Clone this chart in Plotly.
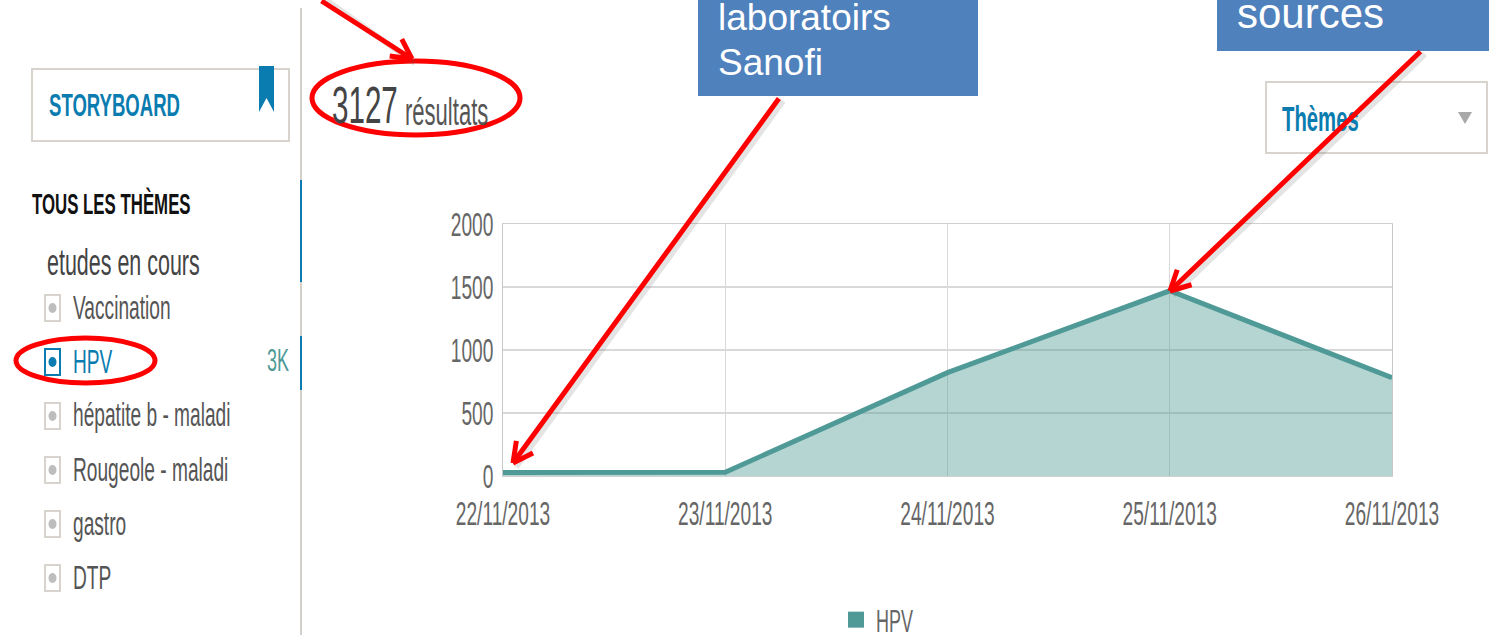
import math
import plotly.graph_objects as go

dates = ["22/11/2013", "23/11/2013", "24/11/2013", "25/11/2013", "26/11/2013"]
hpv_values = [27, 30, 820, 1470, 780]
y_ticks = [0, 500, 1000, 1500, 2000]
series_name = "HPV"
themes = ["Vaccination", "HPV", "hépatite b - maladi", "Rougeole - maladi", "gastro", "DTP"]

W, H = 1489, 643
NARROW = "Liberation Sans, Arial Narrow, sans-serif"
SANS = "Liberation Sans, Arial, sans-serif"
TEAL = "#4f9a97"
BLUE = "#0a7cb0"
BORDER = "#d8d4cd"
RED = "#ff0000"
BOX = "#4f81bd"
SQUEEZE = 0.58


def px(x):
    return x / W


def py(y):
    return 1 - y / H


fig = go.Figure()
fig.add_trace(go.Scatter(
    x=dates, y=hpv_values, mode="lines", fill="tozeroy",
    line=dict(color=TEAL, width=5), fillcolor="rgba(79,154,151,0.42)",
    showlegend=False, hoverinfo="skip",
))
fig.add_trace(go.Scatter(
    x=[dates[0]], y=[None], mode="markers", name=series_name,
    marker=dict(symbol="square", size=19, color=TEAL), showlegend=True,
))

shapes = []
annotations = []


def rect(x0, y0, x1, y1, line=None, fill=None, width=2, layer="below"):
    shapes.append(dict(type="rect", xref="paper", yref="paper", x0=px(x0), y0=py(y0), x1=px(x1), y1=py(y1),
                       line=dict(color=line or "rgba(0,0,0,0)", width=width if line else 0),
                       fillcolor=fill or "rgba(0,0,0,0)", layer=layer))


def seg(x0, y0, x1, y1, color, width, layer="below"):
    shapes.append(dict(type="line", xref="paper", yref="paper", x0=px(x0), y0=py(y0), x1=px(x1), y1=py(y1),
                       line=dict(color=color, width=width), layer=layer))


def oval(x0, y0, x1, y1, color, width=5, fill=None, layer="above"):
    shapes.append(dict(type="circle", xref="paper", yref="paper", x0=px(x0), y0=py(y0), x1=px(x1), y1=py(y1),
                       line=dict(color=color, width=width), fillcolor=fill or "rgba(0,0,0,0)", layer=layer))


def poly(path_pts, fill, layer="below"):
    path = "M " + " L ".join(f"{px(a):.5f},{py(b):.5f}" for a, b in path_pts) + " Z"
    shapes.append(dict(type="path", xref="paper", yref="paper", path=path, fillcolor=fill,
                       line=dict(width=0), layer=layer))


def text(x, y, s, size, color, font=NARROW, anchor="left", bold=False):
    annotations.append(dict(xref="paper", yref="paper", x=px(x), y=py(y), text=f"<b>{s}</b>" if bold else s,
                            showarrow=False, xanchor=anchor, yanchor="middle", align=anchor, borderpad=0,
                            font=dict(family=font, size=size, color=color)))


def stroke(x0, y0, x1, y1, width=5):
    annotations.append(dict(xref="paper", yref="paper", x=px(x1), y=py(y1), ax=x0 - x1, ay=y0 - y1,
                            axref="pixel", ayref="pixel", text="", showarrow=True, arrowhead=0,
                            arrowwidth=width, arrowcolor=RED, standoff=0, startstandoff=0))


def arrow(x0, y0, x1, y1, head=24, width=5):
    seg(x0 + 3, y0 + 4, x1 + 3, y1 + 4, "rgba(90,90,90,0.16)", width + 1, layer="above")
    stroke(x0, y0, x1, y1, width)
    ang = math.atan2(y0 - y1, x0 - x1)
    for d in (-0.48, 0.48):
        stroke(x1 + head * math.cos(ang + d), y1 + head * math.sin(ang + d), x1, y1, width)


# Sidebar frame
seg(301, 8, 301, 635, "#d3cfc9", 2)
seg(301, 180, 301, 282, BLUE, 2)
seg(301, 336, 301, 390, BLUE, 2)

# Storyboard box
rect(32, 69, 289, 141, line=BORDER)
poly([(259, 66), (274, 66), (274, 112), (266.5, 98), (259, 112)], BLUE)
text(48, 105, "STORYBOARD", 32, BLUE, bold=True)
text(31, 204, "TOUS LES THÈMES", 29, "#111111", bold=True)
text(46, 262, "etudes en cours", 37, "#444444")

# Theme list
row_centers = [308, 362, 416, 470, 524, 578]
for name, yc in zip(themes, row_centers):
    active = name == "HPV"
    rect(45, yc - 13, 60, yc + 13, line=BLUE if active else BORDER)
    oval(48.5, yc - 5, 56.5, yc + 5, BLUE if active else "#bdbdbd", width=0,
         fill=BLUE if active else "#bdbdbd", layer="below")
    text(72, yc - 1, name, 33, BLUE if active else "#555555")
text(266, 360, "3K", 31, TEAL)

# Results counter
text(331, 105, "3127", 51, "#444444")
text(404, 112, "résultats", 38, "#555555")

# Themes dropdown
rect(1266, 82, 1487, 153, line=BORDER)
text(1281, 118, "Thèmes", 35, BLUE, bold=True)
poly([(1458, 112), (1472, 112), (1465, 124)], "#a9a9a9")

# Callout boxes
rect(698, 0, 978, 96, fill=BOX, layer="above")
text(717, 17, "laboratoirs", 37, "#ffffff", font=SANS)
text(717, 62, "Sanofi", 37, "#ffffff", font=SANS)
rect(1217, 0, 1489, 51, fill=BOX, layer="above")
text(1236, 14, "sources", 42, "#ffffff", font=SANS)

# Highlights
oval(312, 61, 520, 135, RED, width=5)
oval(16, 338, 155, 383, RED, width=5)
arrow(320, -6, 412, 59)
arrow(780, 97, 513, 463)
arrow(1422, 50, 1170, 291)

fig.update_layout(
    width=W, height=H, autosize=False,
    margin=dict(l=0, r=0, t=0, b=0, autoexpand=False),
    paper_bgcolor="#ffffff", plot_bgcolor="#ffffff",
    shapes=shapes, annotations=annotations,
    showlegend=True,
    legend=dict(orientation="h", x=px(836), y=py(620), xanchor="left", yanchor="middle",
                font=dict(family=NARROW, size=31, color="#666666"), bgcolor="rgba(0,0,0,0)",
                itemwidth=30),
    xaxis=dict(
        type="category", categoryorder="array", categoryarray=dates,
        domain=[px(503), px(1392)], range=[0, 4],
        tickmode="array", tickvals=dates, ticktext=dates,
        showgrid=True, gridcolor="#d9d9d9", gridwidth=1,
        showline=True, linecolor="#d0d0d0", mirror=True, linewidth=1,
        ticks="outside", ticklen=8, tickcolor="rgba(0,0,0,0)",
        tickfont=dict(family=NARROW, size=33, color="#666666"), zeroline=False,
    ),
    yaxis=dict(
        domain=[py(476), py(224)], range=[0, 2000],
        tickmode="array", tickvals=y_ticks,
        showgrid=True, gridcolor="#d9d9d9", gridwidth=1.5,
        showline=True, linecolor="#c8c8c8", mirror=True, linewidth=1,
        ticks="outside", ticklen=2, tickcolor="rgba(0,0,0,0)",
        tickfont=dict(family=NARROW, size=33, color="#666666"), zeroline=False,
    ),
)

squeeze_js = """
document.body.style.margin='0';document.body.style.overflow='hidden';
document.querySelectorAll('svg.main-svg text').forEach(function(t){
  if((t.style.fontFamily||'').indexOf('Narrow')<0||!t.textContent)return;
  t.setAttribute('lengthAdjust','spacingAndGlyphs');
  t.setAttribute('textLength',t.getComputedTextLength()*%s);
});
""" % SQUEEZE

fig.write_html("out.html", config={"displayModeBar": False}, post_script=squeeze_js)
